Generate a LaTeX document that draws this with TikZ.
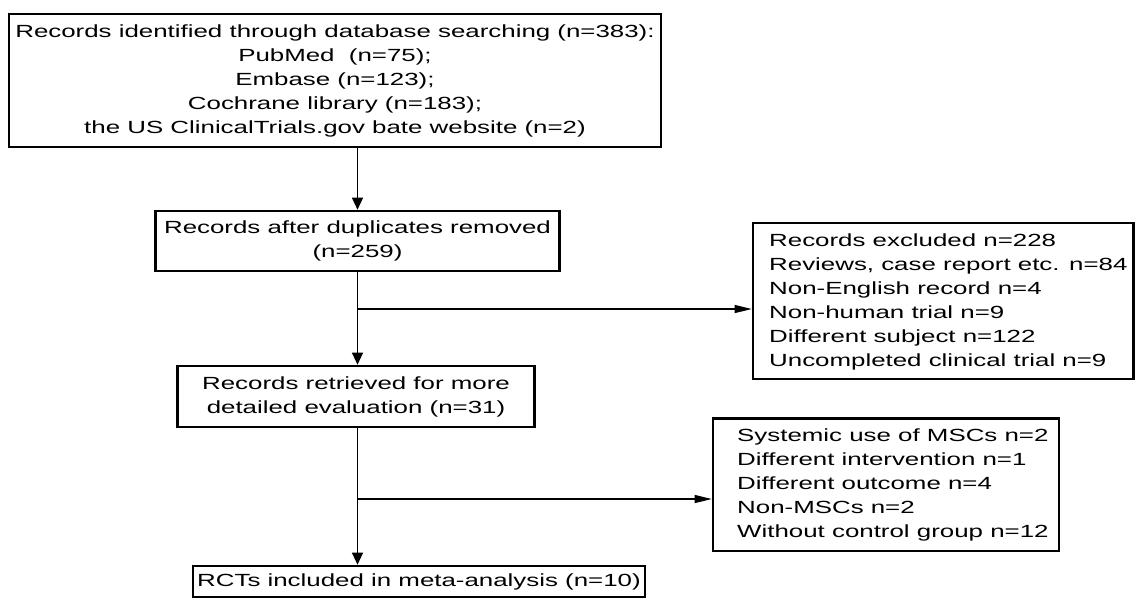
\documentclass[tikz,border=0pt]{standalone}
\usepackage{fontspec}
\setmainfont{Liberation Sans}[FakeStretch=1.47]
\usetikzlibrary{arrows.meta}
\begin{document}
\begin{tikzpicture}[x=1pt,y=-1pt,
  box/.style={draw, line width=2.6pt, inner sep=0pt, align=center},
  txt/.style={inner sep=0pt, align=left, anchor=west},
  conn/.style={line width=1.2pt},
  varrow/.style={conn, -{Triangle[length=12pt,width=11pt]}},
  harrow/.style={conn, -{Triangle[length=17pt,width=8pt]}},
  font=\fontsize{17.6}{24}\selectfont]
\useasboundingbox (0,0) rectangle (1135,598);
\node[box, minimum width=652pt, minimum height=133pt] (b1) at (335,80.5)
  {Records identified through database searching (n=383):\\
   PubMed\ \ (n=75);\\
   Embase (n=123);\\
   Cochrane library (n=183);\\
   the US ClinicalTrials.gov bate website (n=2)};
\node[box, minimum width=404pt, minimum height=60pt] (b2) at (357.5,241)
  {Records after duplicates removed\\(n=259)};
\node[box, minimum width=357pt, minimum height=61pt] (b3) at (356,396.5)
  {Records retrieved for more\\detailed evaluation (n=31)};
\node[box, minimum width=380.5pt, minimum height=156pt] (b4) at (943.25,301) {};
\node[txt] (t4) at (769,302)
  {Records excluded n=228\\
   Reviews, case report etc. n=84\\
   Non-English record n=4\\
   Non-human trial n=9\\
   Different subject n=122\\
   Uncompleted clinical trial n=9};
\node[box, minimum width=452pt, minimum height=31pt] (b5) at (419,581.5)
  {RCTs included in meta-analysis (n=10)};
\node[box, minimum width=346pt, minimum height=132.5pt] (b6) at (886,484.75) {};
\node[txt] (t6) at (737,485)
  {Systemic use of MSCs n=2\\
   Different intervention n=1\\
   Different outcome n=4\\
   Non-MSCs n=2\\
   Without control group n=12};
\draw[varrow] (b1.south -| b2.north) -- (b2.north);
\draw[varrow] (b2.south) -- (b2.south |- b3.north);
\coordinate (j1) at (b2.south |- 0,309);
\draw[harrow] (j1) -- (j1 -| b4.west);
\draw[varrow] (b3.south -| b2.south) -- (b2.south |- b5.north);
\coordinate (j2) at (b2.south |- 0,499);
\draw[harrow] (j2) -- (j2 -| b6.west);
\end{tikzpicture}
\end{document}
